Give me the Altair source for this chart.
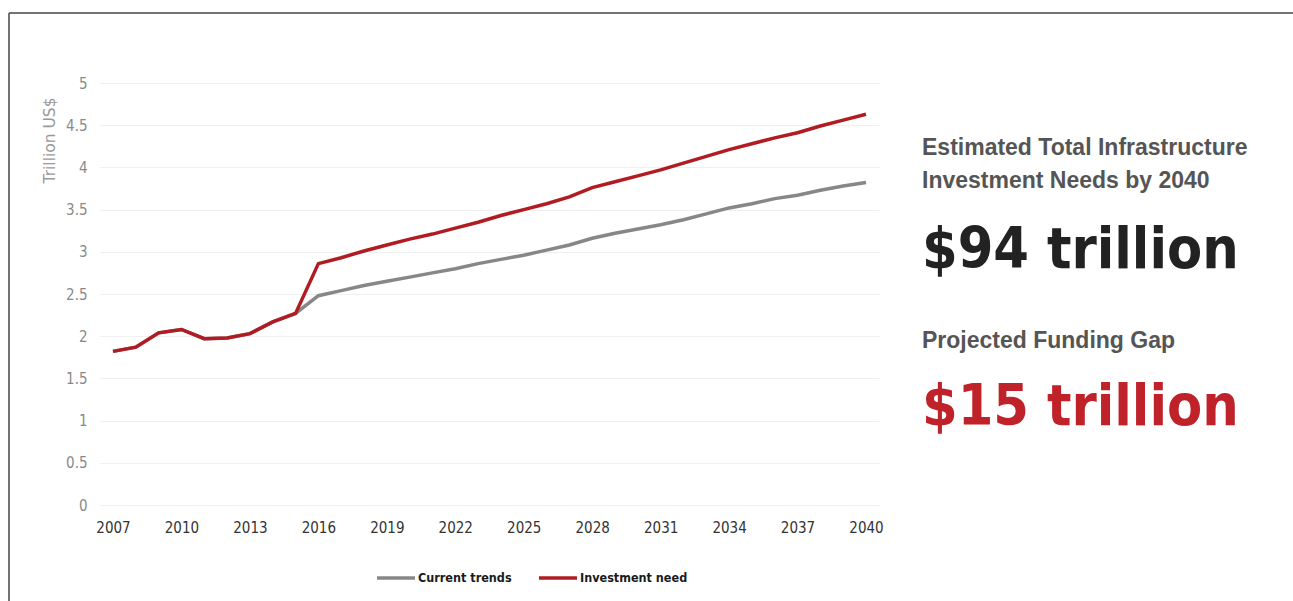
import altair as alt
import pandas as pd

years = list(range(2007, 2041))
current_trends = [1.82, 1.87, 2.04, 2.08, 1.97, 1.98, 2.03, 2.17, 2.27,
                  2.48, 2.54, 2.60, 2.65, 2.70, 2.75, 2.80, 2.86, 2.91, 2.96,
                  3.02, 3.08, 3.16, 3.22, 3.27, 3.32, 3.38, 3.45, 3.52, 3.57,
                  3.63, 3.67, 3.73, 3.78, 3.82]
investment_need = [1.82, 1.87, 2.04, 2.08, 1.97, 1.98, 2.03, 2.17, 2.27,
                   2.86, 2.93, 3.01, 3.08, 3.15, 3.21, 3.28, 3.35, 3.43, 3.50,
                   3.57, 3.65, 3.76, 3.83, 3.90, 3.97, 4.05, 4.13, 4.21, 4.28,
                   4.35, 4.41, 4.49, 4.56, 4.63]
series_names = ["Current trends", "Investment need"]
series_colors = ["#878787", "#b01c22"]
x_ticks = list(range(2007, 2041, 3))
y_ticks = [0, 0.5, 1, 1.5, 2, 2.5, 3, 3.5, 4, 4.5, 5]
side_texts = ["Estimated Total Infrastructure", "Investment Needs by 2040",
              "$94 trillion", "Projected Funding Gap", "$15 trillion"]

COND = "DejaVu Sans Condensed"

df = pd.DataFrame({
    "year": years * 2,
    "value": current_trends + investment_need,
    "series": [series_names[0]] * len(years) + [series_names[1]] * len(years),
})

color = alt.Color(
    "series:N",
    scale=alt.Scale(domain=series_names, range=series_colors),
    legend=alt.Legend(
        title=None, orient="none", legendX=275, legendY=474,
        direction="horizontal", symbolType="stroke", symbolSize=1444,
        symbolStrokeWidth=3.5, labelFont=COND,
        labelFontWeight="bold", labelFontSize=12.5, labelColor="#1a1a1a",
        labelOffset=1, columnPadding=20,
    ),
)

x = alt.X(
    "year:Q",
    scale=alt.Scale(domain=[2006.43, 2040.57], nice=False, zero=False),
    axis=alt.Axis(values=x_ticks, format="d", title=None, grid=False,
                  domain=False, ticks=False, labelFont=COND,
                  labelFontSize=15, labelColor="#333333", labelPadding=15,
                  labelFlush=False),
)
y = alt.Y(
    "value:Q",
    scale=alt.Scale(domain=[0, 5], nice=False),
    axis=alt.Axis(values=y_ticks, format="~g", title="Trillion US$",
                  titleFont="DejaVu Sans", titleFontSize=15.5,
                  titleFontWeight="normal", titleColor="#9a9a9a",
                  titleX=-51, titleY=57, titleAngle=270, titleAlign="center",
                  titleBaseline="middle",
                  grid=True, gridColor="#efefef", gridWidth=1.2,
                  domain=False, ticks=False,
                  labelFont=COND, labelFontSize=15,
                  labelColor="#8a8a8a", labelPadding=13),
)

gray_line = alt.Chart(df[df["series"] == series_names[0]]).mark_line(
    strokeWidth=3.5).encode(x=x, y=y, color=color)
red_line = alt.Chart(df[df["series"] == series_names[1]]).mark_line(
    strokeWidth=3.5).encode(x=x, y=y, color=color)


def side(i, size, col, ypix, font):
    return alt.Chart(pd.DataFrame({"t": [side_texts[i]]})).mark_text(
        align="left", baseline="alphabetic", font=font, fontWeight="bold",
        fontSize=size, color=col,
    ).encode(text="t:N", x=alt.value(822), y=alt.value(ypix))


t1 = side(0, 23, "#555555", 155 - 83, "Liberation Sans")
t2 = side(1, 23, "#555555", 188 - 83, "Liberation Sans")
t3 = side(2, 57, "#222222", 268 - 83, COND)
t4 = side(3, 23, "#555555", 348 - 83, "Liberation Sans")
t5 = side(4, 57, "#c0222a", 425 - 83, COND)

frame_left = alt.Chart(pd.DataFrame({"a": [0]})).mark_rule(
    color="#444444", strokeWidth=1.5).encode(
    x=alt.value(-91), y=alt.value(-70), y2=alt.value(530))
frame_top = alt.Chart(pd.DataFrame({"a": [0]})).mark_rule(
    color="#444444", strokeWidth=1.5).encode(
    x=alt.value(-91), x2=alt.value(1200), y=alt.value(-70))

chart = alt.layer(
    gray_line, red_line, t1, t2, t3, t4, t5, frame_left, frame_top
).properties(
    width=779, height=422,
    autosize=alt.AutoSizeParams(type="none"),
    padding={"left": 100, "top": 83, "right": 414, "bottom": 96},
    background="white",
).configure_view(stroke=None)

chart.save("out.html", embed_options={"renderer": "svg", "actions": False})
